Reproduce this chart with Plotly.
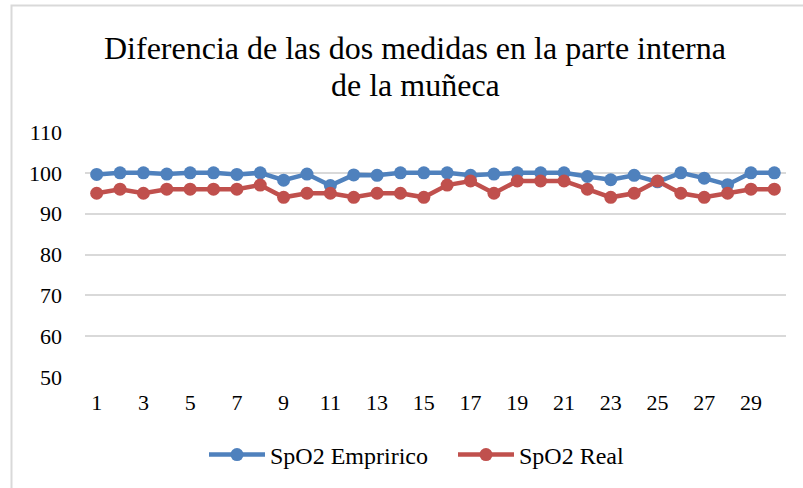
import plotly.graph_objects as go

# Measurement index (1..30) and SpO2 readings
muestras = list(range(1, 31))
spo2_empirico = [99.6, 100, 100, 99.7, 100, 100, 99.6, 100, 98.2, 99.7,
                 96.9, 99.5, 99.4, 100, 100, 100, 99.4, 99.7, 100, 100,
                 100, 99.1, 98.3, 99.4, 97.8, 100, 98.7, 97.1, 100, 100]
spo2_real = [95, 96, 95, 96, 96, 96, 96, 97, 94, 95,
             95, 94, 95, 95, 94, 97, 98, 95, 98, 98,
             98, 96, 94, 95, 98, 95, 94, 95, 96, 96]

x_ticks = list(range(1, 31, 2))
y_ticks = [50, 60, 70, 80, 90, 100, 110]
titulo = ["Diferencia de las dos medidas en la parte interna", "de la muñeca"]

FONT = "Liberation Serif"
BLUE = "#4f81bd"
RED = "#c0504d"
GRID = "#d9d9d9"

fig = go.Figure()
fig.add_trace(go.Scatter(
    x=muestras, y=spo2_empirico, name="SpO2 Empririco",
    mode="lines+markers",
    line=dict(color=BLUE, width=4.5),
    marker=dict(color=BLUE, size=13),
))
fig.add_trace(go.Scatter(
    x=muestras, y=spo2_real, name="SpO2 Real",
    mode="lines+markers",
    line=dict(color=RED, width=4.5),
    marker=dict(color=RED, size=13),
))

W, H = 803, 488
L, R, T, B = 85, 17, 132, 111
pw = W - L - R
ph = H - T - B

def px_x(p):
    return (p - L) / pw

def px_y(p):
    return (H - B - p) / ph

# Outer chart frame (top and left edges visible)
fig.add_shape(type="rect", xref="paper", yref="paper",
              x0=px_x(11.5), x1=px_x(W + 10), y0=px_y(H + 10), y1=px_y(5.5),
              line=dict(color=GRID, width=2), fillcolor="rgba(0,0,0,0)",
              layer="below")

# Two-line chart title with tight line spacing
for linea, yc in zip(titulo, [48, 85]):
    fig.add_annotation(
        text=linea, xref="paper", yref="paper",
        x=px_x(415), y=px_y(yc), xanchor="center", yanchor="middle",
        showarrow=False,
        font=dict(family=FONT, size=32, color="black"),
    )

fig.update_layout(
    width=W, height=H,
    margin=dict(l=L, r=R, t=T, b=B),
    paper_bgcolor="white", plot_bgcolor="white",
    font=dict(family=FONT, color="black", size=22),
    showlegend=True,
    legend=dict(
        orientation="h",
        xref="container", yref="container",
        x=453 / W, xanchor="center",
        y=1 - 455 / H, yanchor="middle",
        font=dict(family=FONT, size=24, color="black"),
        itemwidth=56,
        entrywidth=178, entrywidthmode="pixels",
        bgcolor="rgba(0,0,0,0)",
    ),
    xaxis=dict(
        range=[0.5, 30.5],
        tickmode="array", tickvals=x_ticks, ticktext=[str(v) for v in x_ticks],
        showgrid=False, zeroline=False, showline=False,
        ticks="", ticklabelstandoff=10,
        tickfont=dict(family=FONT, size=22),
    ),
    yaxis=dict(
        range=[50, 110],
        tickmode="array", tickvals=y_ticks,
        showgrid=True, gridcolor=GRID, gridwidth=1.5,
        zeroline=False, showline=False,
        ticks="", ticklabelstandoff=22,
        tickfont=dict(family=FONT, size=22),
    ),
)

fig.write_html("out.html")
